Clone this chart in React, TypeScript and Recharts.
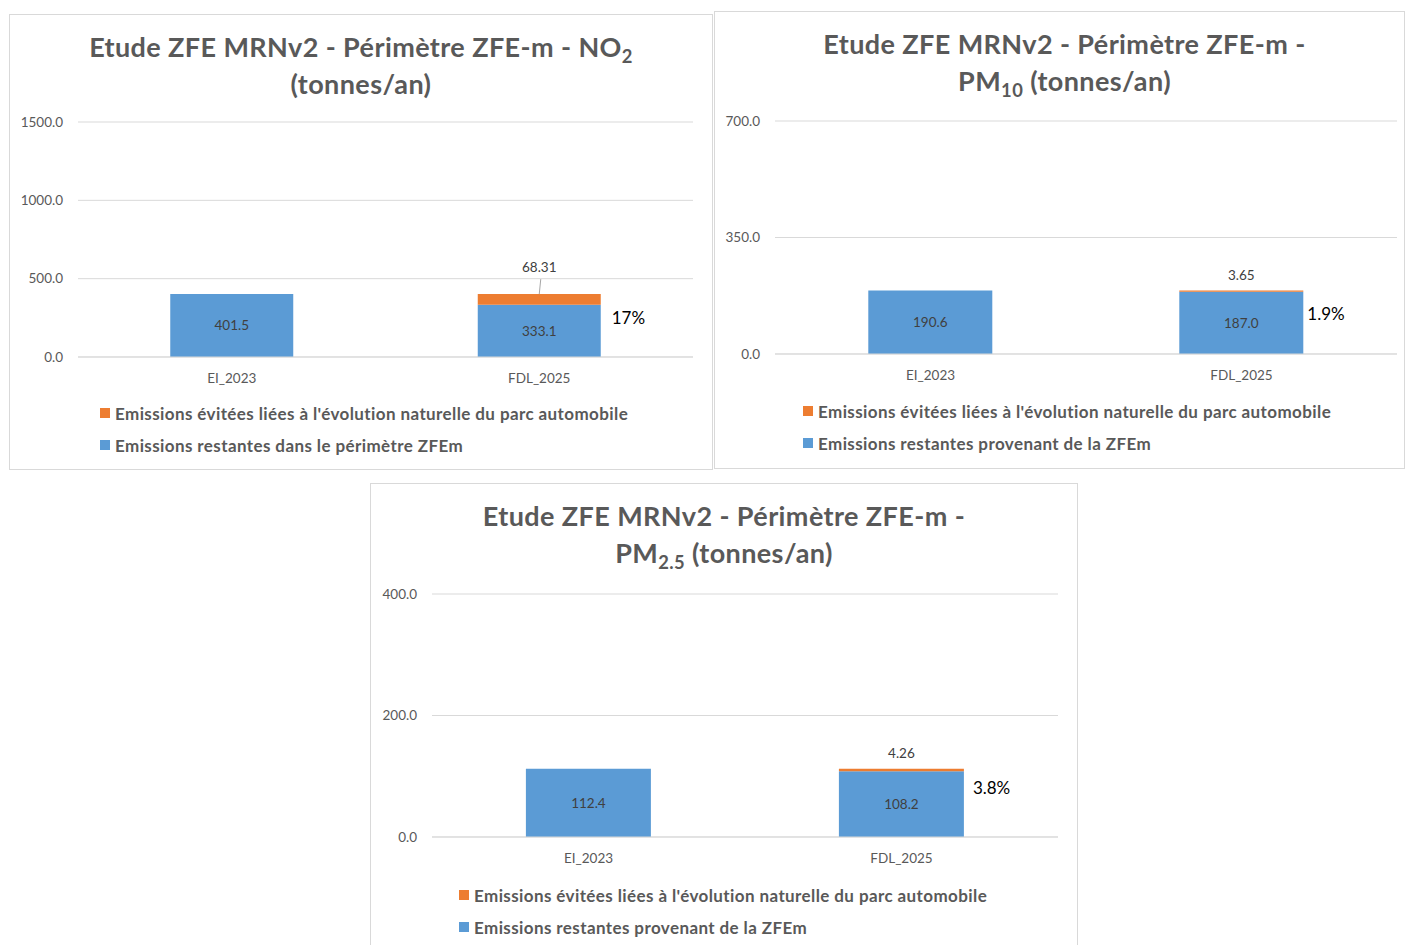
import React from "react";
import { Bar, BarChart, CartesianGrid, LabelList, XAxis, YAxis } from "recharts";

const categories = ["EI_2023", "FDL_2025"];

const no2Restantes = [401.5, 333.1];
const no2Evitees = [null, 68.31];
const no2Pct = ["", "17%"];
const no2Ticks = [0, 500, 1000, 1500];

const pm10Restantes = [190.6, 187.0];
const pm10Evitees = [null, 3.65];
const pm10Pct = ["", "1.9%"];
const pm10Ticks = [0, 350, 700];

const pm25Restantes = [112.4, 108.2];
const pm25Evitees = [null, 4.26];
const pm25Pct = ["", "3.8%"];
const pm25Ticks = [0, 200, 400];

const legendEvitees = "Emissions évitées liées à l'évolution naturelle du parc automobile";
const legendRestantesNo2 = "Emissions restantes dans le périmètre ZFEm";
const legendRestantesPm = "Emissions restantes provenant de la ZFEm";

const BLUE = "#5b9bd5";
const ORANGE = "#ed7d31";
const GREY = "#595959";
const FONT = "Lato, 'Open Sans', sans-serif";

function buildRows(restantes: number[], evitees: (number | null)[], pct: string[]) {
  return categories.map((name, i) => ({
    name,
    restantes: restantes[i],
    evitees: evitees[i],
    pct: pct[i],
  }));
}

type PanelProps = {
  left: number;
  top: number;
  width: number;
  height: number;
  title: React.ReactNode;
  titleShift?: number;
  restantes: number[];
  evitees: (number | null)[];
  pct: string[];
  ticks: number[];
  plot: { left: number; top: number; right: number; bottom: number };
  aboveOffset: number;
  leader?: boolean;
  pctPos: { dx: number; dy: number };
  legendRestantes: string;
  legend: { x: number; y: number };
  borderBottom?: boolean;
};

function Panel(p: PanelProps) {
  const rows = buildRows(p.restantes, p.evitees, p.pct);
  const innerW = p.width - 2;
  const chartH = p.plot.bottom + 40;

  const orangeLabel = (props: any) => {
    const { x, y, width, value } = props;
    if (value == null) return null;
    const cx = x + width / 2;
    return (
      <g>
        <text
          x={cx}
          y={y - p.aboveOffset}
          textAnchor="middle"
          dominantBaseline="central"
          fill="#404040"
          fontSize={13.5}
          fontFamily={FONT}
        >
          {value}
        </text>
        {p.leader && (
          <line x1={cx + 1.5} y1={y - p.aboveOffset + 12} x2={cx} y2={y} stroke="#a6a6a6" />
        )}
      </g>
    );
  };

  const pctLabel = (props: any) => {
    const { x, y, width, value } = props;
    if (!value) return null;
    return (
      <text
        x={x + width + p.pctPos.dx}
        y={y + p.pctPos.dy}
        dominantBaseline="central"
        fill="#000"
        fontSize={17}
        fontFamily={FONT}
      >
        {value}
      </text>
    );
  };

  const legendItem = (color: string, text: string, cy: number) => (
    <div
      style={{
        position: "absolute",
        left: p.legend.x,
        top: cy - 11,
        height: 22,
        display: "flex",
        alignItems: "center",
        whiteSpace: "nowrap",
        fontFamily: FONT,
        fontWeight: 700,
        fontSize: 17,
        letterSpacing: "0.4px",
        color: GREY,
      }}
    >
      <span style={{ width: 10, height: 10, background: color, marginRight: 5, display: "inline-block" }} />
      {text}
    </div>
  );

  return (
    <div
      style={{
        position: "absolute",
        left: p.left,
        top: p.top,
        width: innerW,
        height: p.height - 2,
        border: "1px solid #d9d9d9",
        borderBottom: p.borderBottom === false ? "none" : "1px solid #d9d9d9",
        background: "#fff",
      }}
    >
      <div
        style={{
          position: "absolute",
          left: p.titleShift || 0,
          top: 13,
          width: innerW,
          textAlign: "center",
          fontFamily: FONT,
          fontWeight: 700,
          fontSize: 27,
          letterSpacing: "0.4px",
          lineHeight: "37px",
          color: GREY,
          whiteSpace: "nowrap",
        }}
      >
        {p.title}
      </div>
      <div style={{ position: "absolute", left: 0, top: 0 }}>
        <BarChart
          width={innerW}
          height={chartH}
          data={rows}
          barCategoryGap="30%"
          margin={{ top: p.plot.top, right: innerW - p.plot.right, left: 0, bottom: 0 }}
        >
          <CartesianGrid vertical={false} stroke="#d9d9d9" />
          <XAxis
            dataKey="name"
            height={40}
            tickLine={false}
            axisLine={{ stroke: "#d9d9d9" }}
            tickMargin={10}
            tick={{ fill: GREY, fontSize: 13.5, fontFamily: FONT }}
          />
          <YAxis
            width={p.plot.left}
            domain={[0, p.ticks[p.ticks.length - 1]]}
            ticks={p.ticks}
            tickLine={false}
            axisLine={false}
            tickMargin={9}
            tickFormatter={(v: number) => v.toFixed(1)}
            tick={{ fill: GREY, fontSize: 13.5, fontFamily: FONT }}
          />
          <Bar dataKey="restantes" stackId="a" fill={BLUE} isAnimationActive={false}>
            <LabelList
              dataKey="restantes"
              position="center"
              fill="#404040"
              fontSize={13.5}
              fontFamily={FONT}
              formatter={(v: any) => Number(v).toFixed(1)}
            />
          </Bar>
          <Bar dataKey="evitees" stackId="a" fill={ORANGE} isAnimationActive={false}>
            <LabelList dataKey="evitees" content={orangeLabel} />
            <LabelList dataKey="pct" content={pctLabel} />
          </Bar>
        </BarChart>
      </div>
      {legendItem(ORANGE, legendEvitees, p.legend.y)}
      {legendItem(BLUE, p.legendRestantes, p.legend.y + 32)}
    </div>
  );
}

const subStyle: React.CSSProperties = { fontSize: "0.68em", verticalAlign: "-0.3em", lineHeight: 0 };

export default function App() {
  return (
    <div
      style={{
        position: "fixed",
        left: 0,
        top: 0,
        width: 1405,
        height: 945,
        overflow: "hidden",
        background: "#fff",
      }}
    >
      <Panel
        left={9}
        top={14}
        width={704}
        height={456}
        title={
          <>
            Etude ZFE MRNv2 - Périmètre ZFE-m - NO<sub style={subStyle}>2</sub>
            <br />
            (tonnes/an)
          </>
        }
        restantes={no2Restantes}
        evitees={no2Evitees}
        pct={no2Pct}
        ticks={no2Ticks}
        plot={{ left: 68, top: 107, right: 683, bottom: 342 }}
        aboveOffset={27}
        leader
        pctPos={{ dx: 11, dy: 23 }}
        legendRestantes={legendRestantesNo2}
        legend={{ x: 90, y: 398 }}
      />
      <Panel
        left={714}
        top={11}
        width={691}
        height={458}
        titleShift={5}
        title={
          <>
            Etude ZFE MRNv2 - Périmètre ZFE-m -
            <br />
            PM<sub style={subStyle}>10</sub> (tonnes/an)
          </>
        }
        restantes={pm10Restantes}
        evitees={pm10Evitees}
        pct={pm10Pct}
        ticks={pm10Ticks}
        plot={{ left: 60, top: 109, right: 682, bottom: 342 }}
        aboveOffset={16}
        pctPos={{ dx: 4, dy: 23 }}
        legendRestantes={legendRestantesPm}
        legend={{ x: 88, y: 399 }}
      />
      <Panel
        left={370}
        top={483}
        width={708}
        height={463}
        borderBottom={false}
        title={
          <>
            Etude ZFE MRNv2 - Périmètre ZFE-m -
            <br />
            PM<sub style={subStyle}>2.5</sub> (tonnes/an)
          </>
        }
        restantes={pm25Restantes}
        evitees={pm25Evitees}
        pct={pm25Pct}
        ticks={pm25Ticks}
        plot={{ left: 61, top: 110, right: 687, bottom: 353 }}
        aboveOffset={16}
        pctPos={{ dx: 9, dy: 19 }}
        legendRestantes={legendRestantesPm}
        legend={{ x: 88, y: 411 }}
      />
    </div>
  );
}
